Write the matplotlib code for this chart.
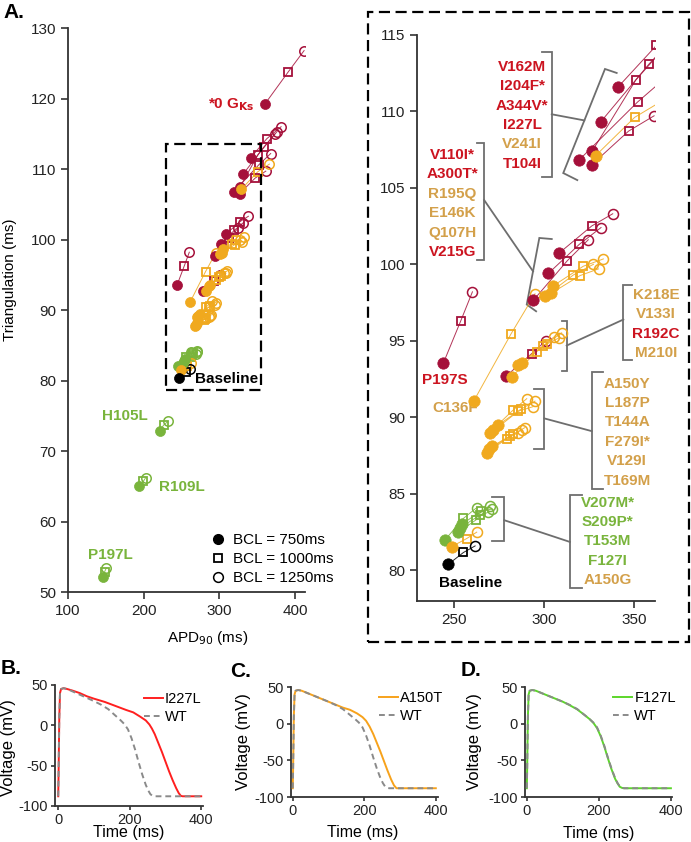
import matplotlib
matplotlib.use('Agg')
import matplotlib.pyplot as plt
from matplotlib.lines import Line2D
from matplotlib.patches import Rectangle

plt.rcParams['font.family'] = ['Liberation Sans', 'DejaVu Sans']
plt.rcParams['axes.unicode_minus'] = False

# ---------------- DATA ----------------
variant_names = ['0GKs', 'V162M', 'I204F*', 'A344V*', 'I227L', 'T104I', 'V241I',
                 'V110I*', 'A300T*', 'V215G', 'R195Q', 'E146K', 'Q107H',
                 'P197S', 'C136F', 'R192C', 'K218E', 'V133I', 'M210I',
                 'A150Y', 'L187P', 'T144A', 'F279I*', 'V129I', 'T169M',
                 'V207M*', 'S209P*', 'T153M', 'F127I', 'A150G', 'Baseline',
                 'H105L', 'R109L', 'P197L']
variant_class = ['red', 'red', 'red', 'red', 'red', 'red', 'orange',
                 'red', 'red', 'red', 'orange', 'orange', 'orange',
                 'red', 'orange', 'red', 'orange', 'orange', 'orange',
                 'orange', 'orange', 'orange', 'orange', 'orange', 'orange',
                 'green', 'green', 'green', 'green', 'orange', 'black',
                 'green', 'green', 'green']
apd_750 = [360.2, 341.3, 331.5, 326.8, 319.4, 326.5, 328.7,
           308.5, 302.4, 294.1, 305.2, 303.9, 300.6,
           244.1, 261.1, 278.9, 282.1, 285.7, 287.6,
           274.3, 270.0, 271.5, 268.2, 269.5, 271.0,
           245.0, 252.4, 253.3, 254.3, 248.7, 246.8,
           221.0, 193.5, 146.0]
tri_750 = [119.25, 111.6, 109.3, 107.4, 106.8, 106.5, 107.1,
           100.74, 99.4, 97.65, 98.6, 98.1, 97.9,
           93.56, 91.1, 92.69, 92.65, 93.45, 93.56,
           89.48, 88.95, 89.2, 87.7, 87.9, 88.1,
           82.0, 82.5, 82.8, 83.0, 81.56, 80.4,
           72.9, 65.0, 52.1]
apd_1000 = [391.0, 362.5, 358.5, 351.1, 352.0, 347.0, 350.4,
            326.5, 319.6, 313.0, 321.8, 320.0, 316.3,
            253.7, 281.7, 293.2, 295.9, 299.3, 301.5,
            287.0, 285.7, 282.6, 279.3, 281.1, 282.9,
            255.2, 262.2, 264.4, 265.0, 257.0, 255.2,
            226.5, 199.5, 148.5]
tri_1000 = [123.8, 114.3, 113.1, 112.05, 110.6, 108.7, 109.6,
            102.5, 101.3, 100.24, 99.87, 99.26, 99.3,
            96.3, 95.46, 94.17, 94.3, 94.65, 94.82,
            90.52, 90.4, 90.45, 88.6, 88.78, 88.9,
            83.4, 83.3, 83.6, 83.9, 82.08, 81.17,
            73.7, 65.7, 52.9]
apd_1250 = [411.8, 381.4, 376.0, 373.4, 367.7, 361.2, 366.0,
            338.2, 331.7, 324.6, 333.0, 330.3, 327.5,
            260.2, 295.0, 301.0, 305.6, 308.5, 309.8,
            295.0, 294.0, 290.4, 285.7, 287.6, 289.4,
            262.6, 270.0, 269.1, 271.0, 262.6, 261.7,
            232.0, 202.5, 150.5]
tri_1250 = [126.8, 116.0, 115.3, 115.0, 112.2, 109.7, 110.7,
            103.3, 102.4, 101.6, 100.35, 99.7, 100.0,
            98.2, 98.07, 95.0, 95.26, 95.2, 95.52,
            91.06, 90.7, 91.22, 89.0, 89.17, 89.33,
            84.1, 84.2, 83.8, 84.0, 82.5, 81.6,
            74.2, 66.2, 53.4]

# label groups in the zoomed panel
group_labels = [
    ['V162M', 'I204F*', 'A344V*', 'I227L', 'V241I', 'T104I'],
    ['V110I*', 'A300T*', 'R195Q', 'E146K', 'Q107H', 'V215G'],
    ['K218E', 'V133I', 'R192C', 'M210I'],
    ['A150Y', 'L187P', 'T144A', 'F279I*', 'V129I', 'T169M'],
    ['V207M*', 'S209P*', 'T153M', 'F127I', 'A150G'],
]
group_label_class = [
    ['red', 'red', 'red', 'red', 'orange', 'red'],
    ['red', 'red', 'orange', 'orange', 'orange', 'red'],
    ['orange', 'orange', 'red', 'orange'],
    ['orange'] * 6,
    ['green', 'green', 'green', 'green', 'orange'],
]

# action potential traces (time ms, voltage mV)
wt_time = [0, 1, 3, 5, 8, 15, 25, 40, 60, 80, 100, 120, 140, 160, 175, 185, 195,
           205, 215, 225, 235, 245, 252, 258, 264, 270, 400]
wt_voltage = [-88, -60, 10, 40, 45, 46, 45, 42, 38, 34, 30, 25.5, 20, 12, 6, 1.5, -5,
              -16, -30, -46, -61, -74, -81, -85.5, -87.5, -88, -88]
i227l_time = [0, 1, 3, 5, 8, 15, 25, 40, 60, 80, 100, 130, 160, 190, 210, 230, 245,
              255, 262, 270, 280, 290, 300, 310, 320, 330, 337, 343, 348, 400]
i227l_voltage = [-88, -60, 10, 40, 45, 46, 45, 43, 40, 36, 33, 29, 24, 19, 16, 10.5, 6,
                 1, -4, -11, -22, -33, -45, -57, -68, -78, -84, -87.5, -88, -88]
a150t_time = [0, 1, 3, 5, 8, 15, 25, 40, 60, 80, 100, 120, 140, 160, 180, 195, 205,
              215, 225, 235, 245, 255, 265, 275, 283, 290, 400]
a150t_voltage = [-88, -60, 10, 40, 45, 46, 45, 42, 38, 34, 30, 26, 22, 19, 14, 9, 4,
                 -4, -14, -26, -38, -51, -64, -76, -84, -88, -88]
f127l_time = [0, 1, 3, 5, 8, 15, 25, 40, 60, 80, 100, 120, 140, 160, 175, 185, 195,
              205, 215, 225, 235, 245, 252, 258, 264, 270, 400]
f127l_voltage = [-88, -60, 10, 40, 45, 46, 45, 42, 38, 34, 30, 25, 19.5, 12, 6, 1, -6,
                 -17, -31, -47, -62, -75, -81.5, -86, -87.5, -88, -88]

# ---------------- STYLE ----------------
marker_color = {'red': '#A5103A', 'orange': '#F0A91E', 'green': '#79B43C', 'black': '#000000'}
label_color = {'red': '#CC1420', 'orange': '#D3A04A', 'green': '#79B43C', 'black': '#000000'}
bracket_color = '#6E6E6E'
spine_color = '#333333'

fig = plt.figure(figsize=(6.91, 8.42), dpi=100)


def style_axes(ax, labelsize=11):
    for s in ['top', 'right']:
        ax.spines[s].set_visible(False)
    for s in ['left', 'bottom']:
        ax.spines[s].set_color(spine_color)
        ax.spines[s].set_linewidth(1.3)
    ax.tick_params(direction='out', length=5, width=1.2, color=spine_color,
                   labelsize=labelsize, labelcolor='#222222')


def draw_variants(ax, ms_fill, ms_sq, ms_open):
    for i in range(len(variant_names)):
        c = marker_color[variant_class[i]]
        xs = [apd_750[i], apd_1000[i], apd_1250[i]]
        ys = [tri_750[i], tri_1000[i], tri_1250[i]]
        ax.plot(xs, ys, '-', color=c, lw=0.7, alpha=0.85, zorder=2)
        ax.plot(apd_750[i], tri_750[i], 'o', ms=ms_fill, mfc=c, mec=c, mew=0.5, zorder=4)
        ax.plot(apd_1000[i], tri_1000[i], 's', ms=ms_sq, mfc='none', mec=c, mew=1.3, zorder=3)
        ax.plot(apd_1250[i], tri_1250[i], 'o', ms=ms_open, mfc='none', mec=c, mew=1.1, zorder=3)


# ---------------- PANEL A (main) ----------------
axA = fig.add_axes([0.0984, 0.2969, 0.343, 0.6698])
style_axes(axA)
draw_variants(axA, 7.2, 5.2, 6.8)
axA.set_xlim(100, 413)
axA.set_ylim(50, 130)
axA.set_xticks([100, 200, 300, 400])
axA.set_yticks(range(50, 131, 10))
axA.set_xlabel('APD$_{90}$ (ms)', fontsize=11)
axA.set_ylabel('Triangulation (ms)', fontsize=11)
axA.xaxis.set_label_coords(0.59, -0.066)
axA.yaxis.set_label_coords(-0.215, 0.553)
axA.add_patch(Rectangle((229.5, 78.7), 125.5, 34.8, fill=False, ec='black',
                        lw=1.6, ls=(0, (5, 2.5)), zorder=5))
axA.text(347, 119.2, '*0 G$_{\\mathbf{Ks}}$', color=label_color['red'], fontsize=11,
         fontweight='bold', ha='right', va='center')
axA.text(175.3, 74.9, 'H105L', color=label_color['green'], fontsize=11,
         fontweight='bold', ha='center', va='center')
axA.text(250.2, 64.9, 'R109L', color=label_color['green'], fontsize=11,
         fontweight='bold', ha='center', va='center')
axA.text(156.4, 55.3, 'P197L', color=label_color['green'], fontsize=11,
         fontweight='bold', ha='center', va='center')
axA.text(309.6, 80.2, 'Baseline', color='black', fontsize=11,
         fontweight='bold', ha='center', va='center')
leg_handles = [
    Line2D([], [], marker='o', ls='none', color='black', ms=7),
    Line2D([], [], marker='s', ls='none', mfc='none', mec='black', ms=5.5, mew=1.3),
    Line2D([], [], marker='o', ls='none', mfc='none', mec='black', ms=7, mew=1.1),
]
axA.legend(leg_handles, ['BCL = 750ms', 'BCL = 1000ms', 'BCL = 1250ms'],
           loc='lower left', bbox_to_anchor=(0.6, 0.012), frameon=False, fontsize=11,
           handlelength=1.0, handletextpad=0.5, labelspacing=0.32, borderpad=0,
           borderaxespad=0)

# ---------------- PANEL A (zoom) ----------------
axZ = fig.add_axes([0.6035, 0.2862, 0.3444, 0.6726])
style_axes(axZ)
draw_variants(axZ, 8.2, 5.6, 7.2)
axZ.set_xlim(229.4, 361.7)
axZ.set_ylim(78, 115)
axZ.set_xticks([250, 300, 350])
axZ.set_yticks(range(80, 116, 5))

# group labels: center x, first-line y
label_anchor = [(287.8, 112.91), (249.2, 107.15), (362.2, 98.0), (346.3, 92.21), (335.4, 84.43)]
line_step = 1.27
for names, classes, (cx, cy) in zip(group_labels, group_label_class, label_anchor):
    for k, (nm, cl) in enumerate(zip(names, classes)):
        axZ.text(cx, cy - k * line_step, nm, color=label_color[cl], fontsize=11,
                 fontweight='bold', ha='center', va='center')

brackets = [
    [(298.7, 113.9), (304.3, 113.9), (304.3, 105.7), (298.7, 105.7)],
    [(340.4, 112.5), (333.9, 112.76), (310.7, 105.96), (318.5, 105.5)],
    [(304.3, 109.8), (322.4, 109.4)],
    [(262.6, 107.9), (266.7, 107.9), (266.7, 100.26), (262.6, 100.26)],
    [(304.3, 101.65), (297.4, 101.72), (290.4, 97.37), (295.6, 96.93)],
    [(266.7, 104.2), (293.9, 99.54)],
    [(309.8, 96.28), (312.6, 96.28), (312.6, 93.02), (309.8, 93.02)],
    [(348.7, 98.67), (344.1, 98.67), (344.1, 93.73), (348.7, 93.73)],
    [(312.6, 94.69), (344.1, 96.39)],
    [(294.6, 91.87), (300.2, 91.87), (300.2, 87.91), (294.6, 87.91)],
    [(333.0, 92.95), (326.5, 92.95), (326.5, 85.35), (333.0, 85.35)],
    [(300.2, 89.93), (326.5, 89.1)],
    [(270.9, 84.8), (277.9, 84.8), (277.9, 81.93), (270.9, 81.93)],
    [(320.9, 84.91), (314.4, 84.91), (314.4, 78.82), (320.9, 78.82)],
    [(277.9, 83.28), (314.4, 81.86)],
]
for br in brackets:
    axZ.plot([p[0] for p in br], [p[1] for p in br], '-', color=bracket_color,
             lw=1.3, clip_on=False, zorder=1, solid_joinstyle='miter')

axZ.text(245.0, 92.47, 'P197S', color=label_color['red'], fontsize=11,
         fontweight='bold', ha='center', va='center')
axZ.text(250.5, 90.63, 'C136F', color=label_color['orange'], fontsize=11,
         fontweight='bold', ha='center', va='center')
axZ.text(258.9, 79.15, 'Baseline', color='black', fontsize=11,
         fontweight='bold', ha='center', va='center')

fig.patches.append(Rectangle((368 / 691, 1 - 642 / 842), (689 - 368) / 691, (642 - 12) / 842,
                             transform=fig.transFigure, fill=False, ec='black', lw=1.6,
                             ls=(0, (5, 2.5)), figure=fig))

# ---------------- PANELS B, C, D ----------------
ap_panels = [
    ([0.0796, 0.0428, 0.2142, 0.1437], i227l_time, i227l_voltage, 'I227L', '#FF1F1F',
     (-9, 405), (-0.262, 0.48), (0.5, -0.16), 0.94),
    ([0.4211, 0.0534, 0.2127, 0.1306], a150t_time, a150t_voltage, 'A150T', '#F7A21B',
     (-5, 406), (-0.275, 0.5), (0.49, -0.25), 0.96),
    ([0.7598, 0.0534, 0.2127, 0.1306], f127l_time, f127l_voltage, 'F127L', '#5CD62A',
     (-5, 403), (-0.29, 0.5), (0.5, -0.26), 0.96),
]
for rect, t, v, name, col, xl, ylc, xlc, legy in ap_panels:
    ax = fig.add_axes(rect)
    style_axes(ax, labelsize=10.5)
    ax.tick_params(length=3, pad=2)
    ax.plot(t, v, '-', color=col, lw=1.4, label=name, zorder=3)
    ax.plot(wt_time, wt_voltage, '--', color='#8A8A8A', lw=1.4, dashes=(3, 2),
            label='WT', zorder=4)
    ax.set_xlim(*xl)
    ax.set_ylim(-100, 50)
    ax.set_xticks([0, 200, 400])
    ax.set_yticks([-100, -50, 0, 50])
    ax.set_xlabel('Time (ms)', fontsize=11.5)
    ax.set_ylabel('Voltage (mV)', fontsize=12)
    ax.yaxis.set_label_coords(*ylc)
    ax.xaxis.set_label_coords(*xlc)
    ax.legend(loc='upper left', bbox_to_anchor=(0.6, legy), frameon=False, fontsize=10.5,
              handlelength=1.3, handletextpad=0.15, labelspacing=0.25, borderpad=0,
              borderaxespad=0)

fig.text(3 / 691, 1 - 3 / 842, 'A.', fontsize=15, fontweight='bold', va='top', ha='left')
fig.text(1 / 691, 1 - 659 / 842, 'B.', fontsize=15, fontweight='bold', va='top', ha='left')
fig.text(230 / 691, 1 - 662 / 842, 'C.', fontsize=15, fontweight='bold', va='top', ha='left')
fig.text(461 / 691, 1 - 661 / 842, 'D.', fontsize=15, fontweight='bold', va='top', ha='left')

fig.savefig('out.png', dpi=100)
